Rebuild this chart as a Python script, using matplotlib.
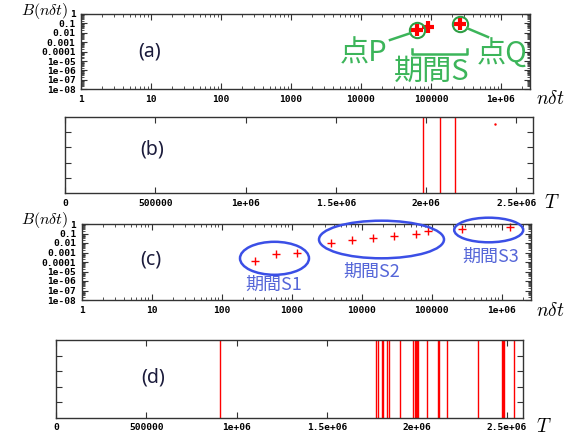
import matplotlib
matplotlib.use("Agg")
import matplotlib.pyplot as plt
from matplotlib.patches import Ellipse
from matplotlib.lines import Line2D
from matplotlib.ticker import FixedLocator, FixedFormatter, LogLocator, NullFormatter

plt.rcParams['mathtext.fontset'] = 'cm'

W, H = 568, 437
cjk = ['Noto Sans CJK JP', 'DejaVu Sans']

# data
a_x = [6.25e4, 9.15e4, 2.6e5]
a_y = [0.020, 0.045, 0.087]
pq_index = [0, 2]   # points P and Q

b_lines = [1.982e6, 2.075e6, 2.159e6]
b_dot_x = [2.38e6]
b_dot_y = [0.9]

c_x = [300, 600, 1200, 3600, 7270, 14500, 28900, 59100, 88500, 2.68e5, 1.30e6]
c_y = [1.28e-4, 6.9e-4, 8.3e-4, 0.0093, 0.0209, 0.036, 0.055, 0.083, 0.18, 0.28, 0.45]

d_lines = [0.907e6, 1.773e6, 1.784e6, 1.804e6, 1.812e6, 1.834e6, 1.845e6,
           1.908e6, 1.976e6, 1.987e6, 1.993e6, 1.999e6, 2.005e6, 2.058e6,
           2.117e6, 2.121e6, 2.166e6, 2.338e6, 2.473e6, 2.477e6, 2.482e6, 2.537e6]

log_x_ticks = [1, 10, 100, 1000, 10000, 100000, 1e6]
log_x_labels = ["1", "10", "100", "1000", "10000", "100000", "1e+06"]
log_y_ticks = [1e-8, 1e-7, 1e-6, 1e-5, 1e-4, 1e-3, 1e-2, 1e-1, 1]
log_y_labels = ["1e-08", "1e-07", "1e-06", "1e-05", "0.0001", "0.001", "0.01", "0.1", "1"]
lin_x_ticks = [0, 500000, 1e6, 1.5e6, 2e6, 2.5e6]
lin_x_labels = ["0", "500000", "1e+06", "1.5e+06", "2e+06", "2.5e+06"]

tick_font = dict(family='DejaVu Sans Mono', weight='bold', size=6.8)


def rect(l, t, r, b):
    return [l / W, 1 - b / H, (r - l) / W, (b - t) / H]


def fx(px):
    return px / W


def fy(py):
    return 1 - py / H


def style(ax):
    for s in ax.spines.values():
        s.set_color('#333333')
        s.set_linewidth(1)
    ax.tick_params(which='both', direction='in', top=True, right=True, colors='#333333')
    ax.tick_params(which='major', length=4, width=0.8, pad=4)
    ax.tick_params(which='minor', length=2, width=0.6)
    for lab in ax.get_xticklabels() + ax.get_yticklabels():
        lab.set_fontproperties(tick_font)
        lab.set_color('black')


def log_panel(ax):
    ax.set_xscale('log')
    ax.set_yscale('log')
    ax.set_xlim(1, 2.6e6)
    ax.set_ylim(1e-8, 1)
    ax.xaxis.set_major_locator(FixedLocator(log_x_ticks))
    ax.xaxis.set_major_formatter(FixedFormatter(log_x_labels))
    ax.xaxis.set_minor_locator(LogLocator(base=10, subs=range(2, 10), numticks=20))
    ax.xaxis.set_minor_formatter(NullFormatter())
    ax.yaxis.set_major_locator(FixedLocator(log_y_ticks))
    ax.yaxis.set_major_formatter(FixedFormatter(log_y_labels))
    ax.yaxis.set_minor_locator(LogLocator(base=10, subs=range(2, 10), numticks=20))
    ax.yaxis.set_minor_formatter(NullFormatter())
    style(ax)


def lin_panel(ax):
    ax.set_xlim(0, 2.59e6)
    ax.set_ylim(0, 1)
    ax.xaxis.set_major_locator(FixedLocator(lin_x_ticks))
    ax.xaxis.set_major_formatter(FixedFormatter(lin_x_labels))
    ax.set_yticks([0.2, 0.4, 0.6, 0.8])
    ax.set_yticklabels([])
    style(ax)


fig = plt.figure(figsize=(W / 100, H / 100), dpi=100)

# (a)
ax_a = fig.add_axes(rect(81, 14, 530, 89.3))
log_panel(ax_a)
ax_a.plot(a_x, a_y, '+', color='red', ms=9, mew=3, clip_on=False, zorder=5)
ax_a.plot([a_x[i] for i in pq_index], [a_y[i] for i in pq_index], 'o', mfc='none',
          mec='#2e9e44', ms=11, mew=1.5, clip_on=False, zorder=6)

# (b)
ax_b = fig.add_axes(rect(65.3, 116.7, 532.5, 193.3))
lin_panel(ax_b)
ax_b.vlines(b_lines, 0, 1, color='red', lw=1)
ax_b.plot(b_dot_x, b_dot_y, '.', color='red', ms=1.5)

# (c)
ax_c = fig.add_axes(rect(81.7, 224, 530.7, 300))
log_panel(ax_c)
ax_c.plot(c_x, c_y, '+', color='red', ms=6, mew=1, clip_on=False)

# (d)
ax_d = fig.add_axes(rect(56.3, 340.3, 523.3, 417.5))
lin_panel(ax_d)
ax_d.vlines(d_lines, 0, 1, color='red', lw=1)

# panel letters
letter_color = '#1b1b3b'
for txt, px, py in [("(a)", 150, 51), ("(b)", 152, 149), ("(c)", 151, 260), ("(d)", 153, 377)]:
    fig.text(fx(px), fy(py), txt, ha='center', va='center', fontsize=14,
             family='Noto Sans', color=letter_color)

# axis labels
for py in [11, 220]:
    fig.text(fx(68), fy(py), r'$B(n\delta t)$', ha='right', va='center', fontsize=11.5)
for py in [98, 310]:
    fig.text(fx(536), fy(py), r'$n\delta t$', ha='left', va='center', fontsize=14)
fig.text(fx(544), fy(202), r'$T$', ha='left', va='center', fontsize=14)
fig.text(fx(536), fy(427), r'$T$', ha='left', va='center', fontsize=14)

# green annotations for (a)
green = '#3cb55a'
fig.text(fx(364), fy(53), "点P", ha='center', va='center', fontsize=21, family=cjk, color=green)
fig.text(fx(432), fy(72), "期間S", ha='center', va='center', fontsize=21, family=cjk, color=green)
fig.text(fx(502), fy(55), "点Q", ha='center', va='center', fontsize=21, family=cjk, color=green)
fig.add_artist(Line2D([fx(390), fx(410)], [fy(40), fy(33.3)], color=green, lw=1.8))
fig.add_artist(Line2D([fx(467.3), fx(488)], [fy(28.3), fy(37)], color=green, lw=1.8))
fig.add_artist(Line2D([fx(411.7), fx(411.7), fx(467.3), fx(467.3)],
                      [fy(49.3), fy(54.3), fy(54.3), fy(49.3)], color=green, lw=1.8))

# blue annotations for (c)
blue = '#3b4fe6'
for cx, cy, w, h in [(274.5, 258.3, 69, 33), (381.5, 239.5, 125, 37.6), (488.7, 230, 69, 24.6)]:
    fig.add_artist(Ellipse((fx(cx), fy(cy)), w / W, h / H, transform=fig.transFigure,
                           fill=False, edgecolor=blue, lw=1.8))
for txt, px, py in [("期間S1", 274, 285), ("期間S2", 371.5, 271.7), ("期間S3", 490.5, 256.7)]:
    fig.text(fx(px), fy(py), txt, ha='center', va='center', fontsize=13, family=cjk,
             color='#5566d8')

fig.savefig("out.png", dpi=100)
